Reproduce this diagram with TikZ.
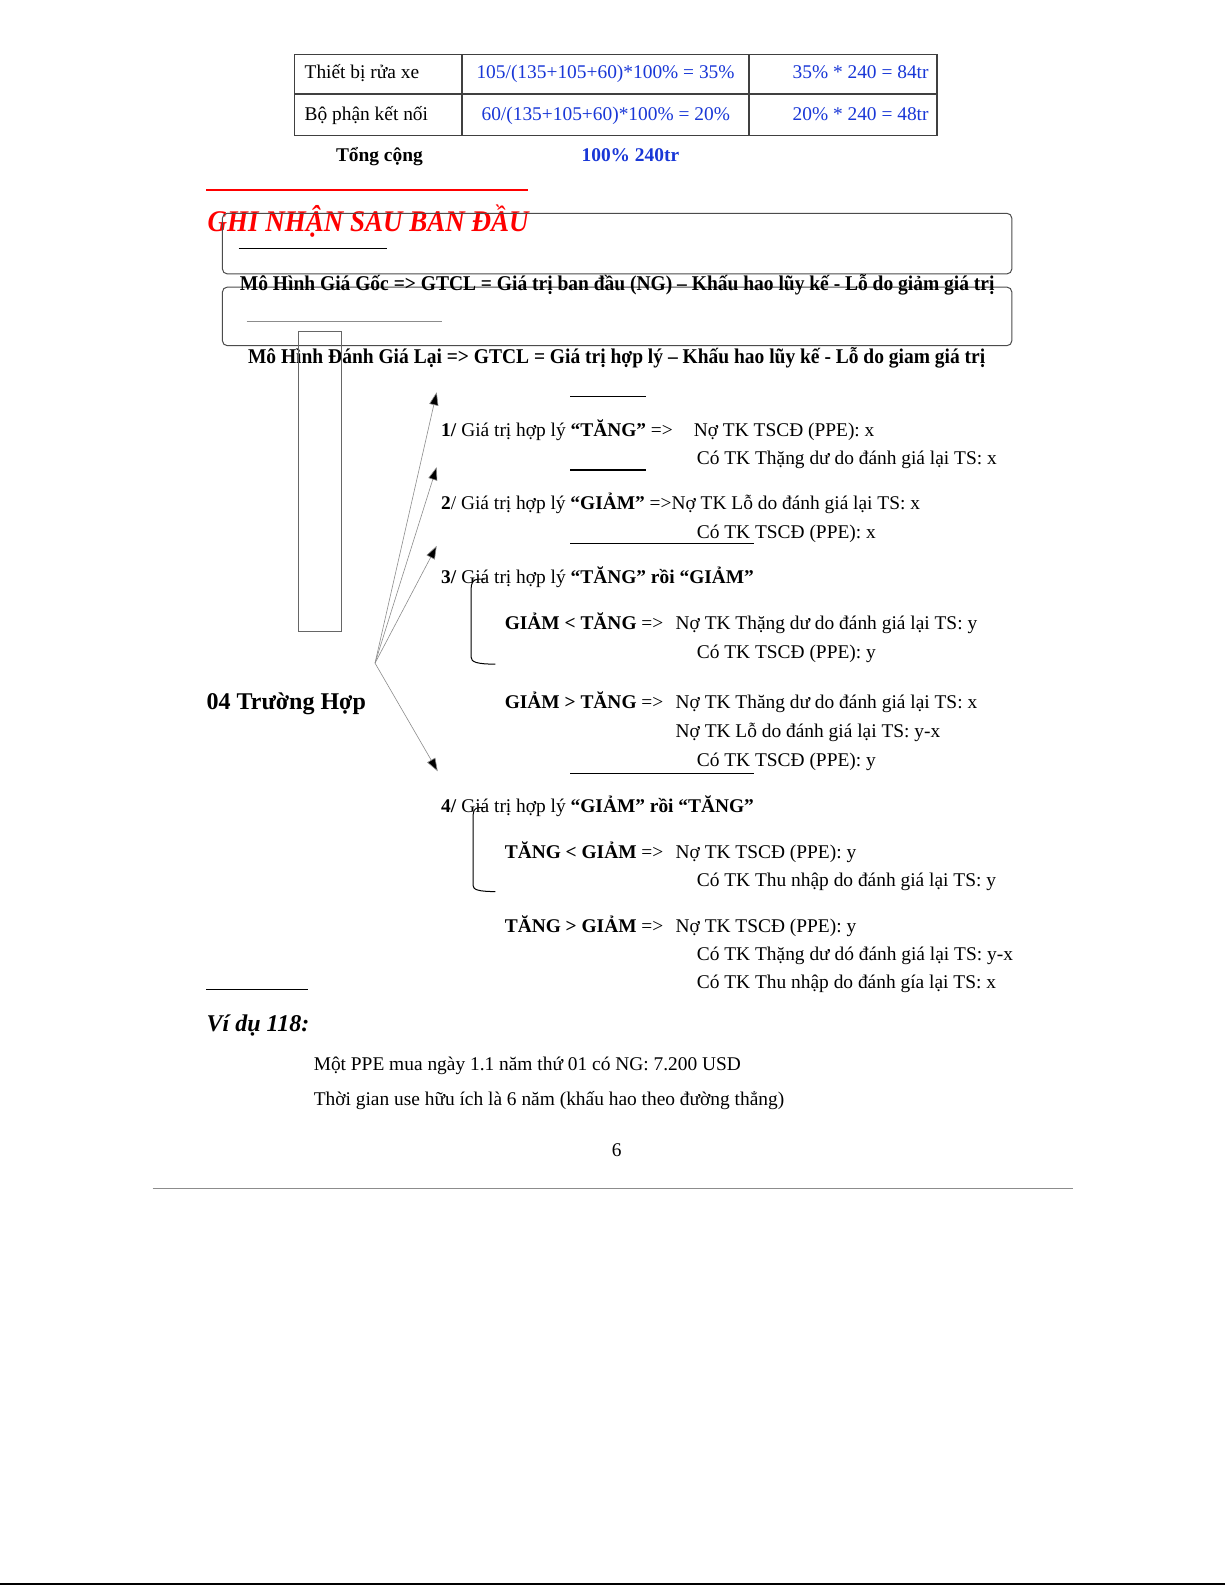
\documentclass[tikz,border=0pt]{standalone}
\usepackage{fontspec}
\usepackage{graphicx}
\setmainfont{Liberation Serif}
\usetikzlibrary{arrows.meta}
\definecolor{tblue}{RGB}{25,55,215}
\definecolor{lgray}{RGB}{140,140,140}
\begin{document}
\begin{tikzpicture}[x=0.50535pt,y=-0.50535pt,
  txt/.style={anchor=base west, inner sep=0pt, yshift=-1pt, font=\fontsize{9.7}{11}\selectfont},
  bld/.style={txt, font=\fontsize{9.7}{11}\selectfont\bfseries},
  head/.style={anchor=base west, inner sep=0pt, yshift=-1pt, font=\fontsize{10.5}{12}\selectfont\bfseries},
  big/.style={anchor=base west, inner sep=0pt, yshift=-1pt, font=\fontsize{12}{14}\selectfont\bfseries},
  tline/.style={draw=black!75, line width=0.6pt},
  rbox/.style={draw=black!70, line width=0.5pt, rounded corners=2.5pt},
  rule/.style={draw=black, line width=0.6pt},
  conn/.style={draw=lgray, line width=0.3pt, -{Triangle[length=6.5pt,width=4.6pt,fill=black]}},
  brk/.style={draw=black, line width=0.5pt}]
\useasboundingbox (0,0) rectangle (1212,1568);
\fill[white] (0,0) rectangle (1212,1568);
% table
\draw[tline] (291,54) rectangle (927,134);
\draw[tline] (291,93) -- (927,93);
\draw[tline] (457,54) -- (457,134);
\draw[tline] (741,54) -- (741,134);
\node[txt] (r1c1) at (301,76) {Thiết bị rửa xe};
\node[txt,text=tblue] (r1c2) at (471,76) {105/(135+105+60)*100\% = 35\%};
\node[txt,text=tblue,anchor=base east] (r1c3) at (919,76) {35\% * 240 = 84tr};
\node[txt] (r2c1) at (301,117) {Bộ phận kết nối};
\node[txt,text=tblue] (r2c2) at (476,117) {60/(135+105+60)*100\% = 20\%};
\node[txt,text=tblue,anchor=base east] (r2c3) at (919,117) {20\% * 240 = 48tr};
\node[bld] (tot) at (332,158) {Tổng cộng};
\node[bld,text=tblue] (totv) at (575,158) {100\% 240tr};
% title
\draw[red, line width=0.8pt] (204,188) -- (522,188);
\node[anchor=base west, inner sep=0pt, text=red, font=\fontsize{15}{17}\selectfont\bfseries\itshape] (title) at (205,229) {\scalebox{0.9}[1]{GHI NHẬN SAU BAN ĐẦU}};
% boxes
\draw[rbox] (220,211) rectangle (1001,271);
\draw[rbox] (220,284) rectangle (1001,342);
\draw[rule] (236,246) -- (383,246);
\draw[draw=lgray, line width=0.5pt] (244,318) -- (437,318);
\node[head] (m1) at (237,285) {\scalebox{0.928}[1]{Mô Hình Giá Gốc => GTCL = Giá trị ban đầu (NG) – Khấu hao lũy kế - Lỗ do giảm giá trị}};
\node[head] (m2) at (245,358) {\scalebox{0.928}[1]{Mô Hình Đánh Giá Lại => GTCL = Giá trị hợp lý – Khấu hao lũy kế - Lỗ do giam giá trị}};
\draw[draw=black!60, line width=0.5pt] (295,328) rectangle (338,625);
% arrows
\coordinate (o) at (371,656);
\coordinate (t1) at (432,388);
\coordinate (t2) at (432,462);
\coordinate (t3) at (432,540);
\coordinate (t4) at (433,763);
\draw[conn] (o) -- (t1);
\draw[conn] (o) -- (t2);
\draw[conn] (o) -- (t3);
\draw[conn] (o) -- (t4);
% short rules
\draw[rule] (564,392) -- (639,392);
\draw[rule] (564,465) -- (639,465);
\draw[rule] (564,538) -- (746,538);
\draw[rule] (564,765) -- (746,765);
\draw[rule] (204,979) -- (305,979);
% case texts
\node[txt] (c1) at (436,430) {\textbf{1/} Giá trị hợp lý \textbf{“TĂNG”} =>};
\node[txt] (c1a) at (686,430) {Nợ TK TSCĐ (PPE): x};
\node[txt] (c1b) at (689,458) {Có TK Thặng dư do đánh giá lại TS: x};
\node[txt] (c2) at (436,502) {\textbf{2}/ Giá trị hợp lý \textbf{“GIẢM”} =>Nợ TK Lỗ do đánh giá lại TS: x};
\node[txt] (c2b) at (689,531) {Có TK TSCĐ (PPE): x};
\node[txt] (c3) at (436,575) {\textbf{3/} Giá trị hợp lý \textbf{“TĂNG” rồi “GIẢM”}};
\node[txt] (c3a) at (499,621) {\textbf{GIẢM < TĂNG} =>};
\node[txt] (c3a1) at (668,621) {Nợ TK Thặng dư do đánh giá lại TS: y};
\node[txt] (c3a2) at (689,649) {Có TK TSCĐ (PPE): y};
\node[big] (cases) at (204,700) {04 Trường Hợp};
\node[txt] (c3b) at (499,699) {\textbf{GIẢM > TĂNG} =>};
\node[txt] (c3b1) at (668,699) {Nợ TK Thăng dư do đánh giá lại TS: x};
\node[txt] (c3b2) at (668,728) {Nợ TK Lỗ do đánh giá lại TS: y-x};
\node[txt] (c3b3) at (689,756) {Có TK TSCĐ (PPE): y};
\node[txt] (c4) at (436,802) {\textbf{4/} Giá trị hợp lý \textbf{“GIẢM” rồi “TĂNG”}};
\node[txt] (c4a) at (499,847) {\textbf{TĂNG < GIẢM} =>};
\node[txt] (c4a1) at (668,847) {Nợ TK TSCĐ (PPE): y};
\node[txt] (c4a2) at (689,875) {Có TK Thu nhập do đánh giá lại TS: y};
\node[txt] (c4b) at (499,921) {\textbf{TĂNG > GIẢM} =>};
\node[txt] (c4b1) at (668,921) {Nợ TK TSCĐ (PPE): y};
\node[txt] (c4b2) at (689,948) {Có TK Thặng dư dó đánh giá lại TS: y-x};
\node[txt] (c4b3) at (689,976) {Có TK Thu nhập do đánh gía lại TS: x};
% brackets
\draw[brk] (480,573) -- (473,573) .. controls (468,573) and (466,577) .. (466,583) -- (466,650) .. controls (466,655) and (472,657) .. (490,657);
\draw[brk] (480,799) -- (474,799) .. controls (469,799) and (468,803) .. (468,808) -- (468,876) .. controls (468,880) and (473,882) .. (490,882);
% example
\node[anchor=base west, inner sep=0pt, yshift=-1pt, font=\fontsize{12}{14}\selectfont\bfseries\itshape] (ex) at (204,1018) {Ví dụ 118:};
\node[txt] (ex1) at (310,1057) {Một PPE mua ngày 1.1 năm thứ 01 có NG: 7.200 USD};
\node[txt] (ex2) at (310,1092) {Thời gian use hữu ích là 6 năm (khấu hao theo đường thẳng)};
\node[txt, anchor=base] (pg) at (610,1142) {6};
\draw[draw=lgray, line width=0.5pt] (151,1176) -- (1061,1176);
\draw[black, line width=1.2pt] (0,1567) -- (1212,1567);
\end{tikzpicture}
\end{document}
